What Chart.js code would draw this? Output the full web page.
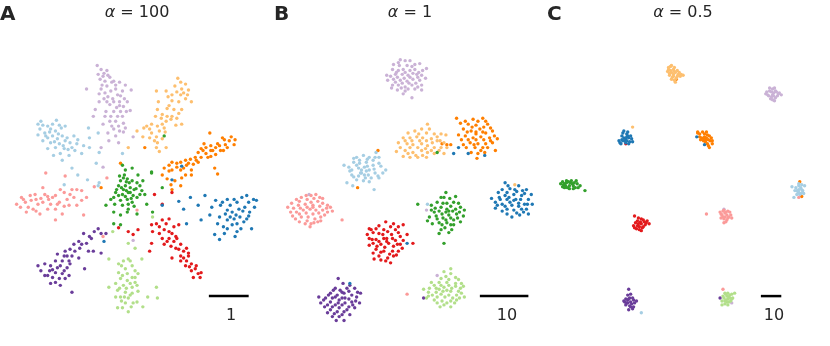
<!DOCTYPE html>
<html>
<head>
<meta charset="utf-8">
<script src="https://cdn.jsdelivr.net/npm/chart.js@4.4.0/dist/chart.umd.min.js"></script>
<style>
  body { margin: 0; background: #fff; }
  #wrap { position: relative; width: 830px; height: 346px; font-family: "DejaVu Sans", sans-serif; color: #262626; }
  canvas { position: absolute; top: 0; }
  .letter { position: absolute; top: 1px; font-weight: bold; font-size: 20px; }
  .title { position: absolute; top: 2px; font-size: 16px; transform: translateX(-50%); white-space: nowrap; }
  .title i { font-style: italic; }
  .bar { position: absolute; top: 305px; font-size: 16px; transform: translateX(-50%); }
</style>
</head>
<body>
<div id="wrap">
  <canvas id="cA" width="275" height="346" style="left:0px"></canvas>
  <canvas id="cB" width="270" height="346" style="left:275px"></canvas>
  <canvas id="cC" width="285" height="346" style="left:545px"></canvas>
  <div class="letter" style="left:0px">A</div>
  <div class="letter" style="left:274px">B</div>
  <div class="letter" style="left:547px">C</div>
  <div class="title" style="left:137px"><i>α</i> = 100</div>
  <div class="title" style="left:410px"><i>α</i> = 1</div>
  <div class="title" style="left:683px"><i>α</i> = 0.5</div>
  <div class="bar" style="left:231px">1</div>
  <div class="bar" style="left:507px">10</div>
  <div class="bar" style="left:774px">10</div>
</div>
<script>
// class names and Paired palette colours
const classes = ['lightblue', 'blue', 'lightgreen', 'green', 'pink', 'red', 'lightorange', 'orange', 'lightpurple', 'purple']
const colors = ['#a6cee3', '#1f78b4', '#b2df8a', '#33a02c', '#fb9a99', '#e31a1c', '#fdbf6f', '#ff7f00', '#cab2d6', '#6a3d9a']

// panel A (alpha = 100), flat x,y lists
const aLightblue = [35,123, 40,124, 45,125, 50,123, 54,119, 57,124, 37,128, 42,132, 48,128, 53,130, 59,127, 63,125, 35,134, 45,137, 50,135, 55,138, 60,135, 65,137, 72,135, 40,140, 48,142, 57,143, 63,140, 68,142, 75,143, 45,148, 53,147, 62,148, 70,147, 82,145, 58,153, 67,155, 73,150, 80,153, 60,160, 70,168, 87,127, 88,137, 97,132, 88,147, 98,152, 95,163, 122,153, 76,175, 86,180, 62,185, 97,186, 98,183,
    47,131, 43,135, 56,133, 52,141, 61,145, 66,149, 38,120, 76,139, 51,155]
const aBlue = [218,201, 223,206, 230,200, 233,206, 240,203, 245,198, 250,196, 257,200, 260,201, 242,210, 248,208, 253,213, 235,213, 228,215, 222,218, 230,221, 237,220, 243,218, 250,220, 220,225, 235,226, 240,225, 247,223, 255,230, 217,236, 227,235, 238,238, 222,241, 203,221, 200,206, 207,196, 192,198, 180,202, 185,210, 163,206, 188,225, 173,180, 103,243, 212,216, 183,166,
    225,203, 237,200, 252,203, 230,211, 246,212, 239,216, 233,218, 252,217, 226,228, 244,230, 230,230, 258,208, 214,208, 240,233]
const aLightgreen = [128,261, 123,263, 118,266, 132,268, 125,271, 135,273, 118,275, 127,276, 132,280, 138,276, 120,281, 127,283, 135,285, 115,286, 123,288, 132,290, 137,288, 117,293, 125,295, 132,296, 120,300, 128,301, 137,305, 125,306, 133,306, 143,310, 122,311, 128,315, 108,261, 142,261, 108,290, 157,290, 148,300, 158,301, 117,311, 135,250, 153,218, 112,233, 128,245, 130,298, 121,304,
    121,268, 130,263, 122,278, 135,280, 130,286, 119,291, 126,291, 138,294, 124,300, 131,310, 115,300]
const aGreen = [124,175, 127,179, 120,181, 132,181, 118,186, 125,186, 130,188, 137,183, 140,186, 143,181, 115,193, 122,195, 128,193, 133,196, 140,195, 113,198, 120,201, 127,200, 132,203, 138,175, 147,205, 105,206, 113,213, 120,216, 128,210, 137,215, 152,173, 163,188, 113,225, 120,226, 153,213, 122,165, 125,170, 132,168, 152,172, 165,135, 126,191, 121,188, 134,190,
    123,178, 129,183, 116,190, 123,190, 130,193, 136,189, 118,196, 125,197, 131,199, 137,198, 114,205, 122,206, 128,205, 134,207, 126,182, 119,176, 142,191, 110,200, 145,195, 127,213]
const aPink = [13,205, 18,198, 22,203, 25,208, 27,196, 32,195, 33,200, 35,205, 30,210, 23,213, 40,188, 42,195, 40,203, 45,210, 37,215, 50,198, 48,205, 53,196, 57,203, 53,210, 60,215, 53,221, 62,193, 65,200, 70,190, 75,190, 72,198, 75,206, 80,191, 80,201, 82,216, 67,206, 43,173, 63,176, 93,187, 106,178, 137,211, 102,238, 28,201, 46,200,
    20,200, 38,199, 45,197, 55,205, 62,207, 68,195, 33,212, 17,208, 58,190, 85,198]
const aRed = [152,226, 157,225, 163,221, 170,220, 180,226, 153,233, 165,231, 173,235, 163,240, 168,243, 175,243, 182,246, 172,248, 180,251, 185,253, 188,250, 173,260, 182,258, 190,258, 188,263, 193,266, 187,268, 197,271, 193,273, 200,276, 202,280, 195,280, 170,240, 152,245, 155,195, 173,193, 163,205, 118,229, 128,233, 133,236, 138,231, 150,253, 177,238,
    160,228, 167,225, 175,228, 170,233, 178,240, 160,235, 177,250, 185,260, 191,269, 198,268, 182,263, 203,275, 165,246, 190,255]
const aLightorange = [179,76, 187,82, 183,87, 178,90, 185,91, 190,88, 182,93, 173,93, 169,95, 157,89, 167,89, 193,100, 187,97, 173,99, 159,100, 180,100, 158,108, 168,107, 175,108, 183,108, 173,115, 168,115, 178,117, 163,113, 156,115, 167,120, 172,118, 163,123, 152,123, 147,125, 158,125, 177,124, 183,123, 144,127, 137,130, 160,130, 165,127, 152,132, 143,136, 157,136, 150,137, 163,138, 158,142, 128,147, 157,147, 167,147, 160,151,
    182,80, 176,84, 189,93, 170,104, 180,112, 162,117, 150,128, 166,131, 155,140]
const aOrange = [212,132, 227,139, 232,140, 237,144, 220,143, 213,145, 208,147, 218,147, 230,147, 203,148, 213,150, 223,150, 200,152, 208,153, 218,154, 197,157, 203,157, 213,156, 192,159, 200,162, 187,160, 195,164, 182,162, 188,165, 173,162, 170,165, 178,167, 165,168, 173,170, 182,170, 193,170, 217,168, 145,147, 120,163, 168,179, 176,181, 183,178, 172,185, 182,186, 173,190, 163,175, 187,175, 193,175, 220,174, 100,188,
    225,137, 234,136, 222,145, 228,144, 215,150, 205,150, 210,157, 198,160, 190,163, 178,163, 185,168, 170,171, 226,150, 206,143, 238,139]
const aLightpurple = [96,63, 100,67, 106,68, 97,72, 102,74, 107,73, 99,77, 104,79, 109,75, 113,79, 101,83, 106,84, 115,83, 119,80, 125,83, 85,87, 100,87, 104,91, 110,89, 115,87, 122,89, 131,88, 107,95, 112,97, 117,93, 113,100, 119,100, 124,97, 103,97, 98,100, 109,103, 119,104, 123,105, 127,100, 94,108, 105,110, 113,110, 120,110, 130,109, 92,115, 110,115, 117,115, 122,115, 109,120, 115,120, 123,122, 102,123, 118,125, 125,127, 113,128, 107,132, 115,135, 133,136, 123,131, 108,140, 118,142, 100,147, 133,242, 102,167,
    103,71, 111,80, 98,92, 120,94, 106,100, 116,106, 111,125, 119,130, 104,115, 126,110]
const aPurple = [97,230, 100,235, 93,233, 82,235, 88,238, 77,243, 85,245, 72,246, 68,251, 78,250, 87,253, 92,253, 100,255, 63,253, 55,256, 62,258, 70,258, 77,260, 53,263, 60,263, 67,263, 48,268, 55,270, 65,270, 42,266, 35,268, 47,273, 53,275, 60,276, 67,278, 42,278, 50,280, 57,281, 63,281, 48,286, 58,288, 70,295, 83,271, 105,235,
    90,240, 80,246, 73,253, 65,258, 58,268, 50,272, 45,278, 62,273, 53,285, 68,266, 38,273]

// panel B (alpha = 1)
const bLightblue = [355,157, 362,155, 368,157, 375,152, 352,162, 358,160, 365,162, 372,160, 378,157, 347,167, 355,165, 363,167, 372,165, 378,163, 350,170, 360,170, 368,170, 385,170, 350,175, 357,176, 363,175, 370,178, 377,176, 355,180, 362,181, 368,182, 373,190, 345,183, 378,178, 428,205, 360,173, 366,166,
    352,158, 358,163, 366,159, 374,157, 348,171, 357,168, 365,171, 373,169, 380,166, 352,177, 359,173, 367,175, 374,173, 382,173, 351,186, 364,178, 342,165]
const bBlue = [508,183, 505,190, 513,189, 522,186, 530,190, 535,195, 502,198, 508,196, 517,195, 525,196, 532,200, 498,203, 505,205, 513,203, 522,204, 528,205, 498,209, 510,210, 517,211, 525,210, 532,215, 515,218, 523,216, 510,215, 460,147, 455,153, 470,153, 487,155, 407,245, 348,286, 519,200, 512,198,
    511,186, 518,190, 526,191, 501,193, 510,193, 520,192, 528,194, 503,200, 510,200, 517,201, 524,200, 531,205, 500,206, 508,207, 515,206, 522,207, 530,210, 505,212, 520,214, 527,213, 536,205, 494,199]
const bLightgreen = [452,271, 447,279, 457,280, 432,285, 440,285, 448,285, 457,286, 463,286, 430,291, 437,291, 445,290, 453,291, 462,291, 427,301, 433,298, 442,297, 450,298, 458,298, 463,296, 435,303, 443,304, 452,304, 458,303, 452,310, 445,308, 448,293, 440,292,
    445,274, 452,276, 442,281, 450,282, 460,282, 435,288, 442,288, 450,288, 457,289, 465,289, 429,295, 437,295, 444,294, 452,294, 460,294, 429,299, 438,300, 446,300, 454,301, 461,301, 438,306, 448,306, 456,306, 441,310, 466,300, 424,292]
const bGreen = [447,193, 445,198, 457,197, 438,203, 448,204, 455,203, 432,206, 442,208, 448,210, 457,210, 462,208, 435,213, 443,215, 450,216, 458,215, 465,217, 430,218, 438,220, 447,221, 455,221, 462,223, 433,225, 443,226, 452,226, 442,231, 453,231, 445,245, 418,205, 440,235, 438,152, 450,212,
    442,198, 451,199, 436,209, 444,204, 452,207, 460,204, 432,211, 440,212, 447,213, 454,212, 461,213, 437,217, 444,219, 452,219, 459,219, 440,224, 448,224, 455,226, 446,229, 450,234, 428,222, 466,211]
const bPink = [288,204, 293,200, 298,198, 303,196, 308,196, 313,195, 317,198, 295,206, 302,205, 308,203, 315,202, 320,204, 325,206, 328,208, 287,213, 293,213, 300,211, 307,210, 313,211, 320,211, 325,213, 292,220, 298,218, 305,218, 312,220, 318,218, 302,225, 308,225, 315,223, 307,228, 340,221, 407,297, 310,208,
    296,202, 304,200, 311,199, 320,199, 290,209, 297,209, 304,208, 310,206, 317,207, 324,209, 289,217, 296,215, 303,214, 310,215, 316,214, 322,216, 296,223, 304,222, 311,224, 318,222, 284,208, 330,212]
const bRed = [370,231, 375,230, 385,223, 393,225, 403,226, 378,235, 387,233, 395,231, 368,240, 375,241, 383,240, 392,240, 400,238, 372,245, 380,246, 388,245, 397,246, 402,250, 375,251, 383,253, 392,253, 398,253, 378,258, 387,260, 393,258, 373,261, 385,263, 413,245, 368,230, 386,243,
    378,227, 390,228, 398,228, 372,234, 382,236, 391,236, 398,234, 366,236, 371,241, 378,243, 386,240, 395,242, 403,242, 368,247, 376,248, 384,249, 393,248, 400,246, 372,255, 380,254, 389,256, 396,257, 380,262, 390,265, 383,231, 407,236]
const bLightorange = [408,132, 415,130, 422,128, 428,123, 427,132, 435,133, 442,133, 447,134, 403,137, 410,137, 417,136, 423,137, 432,138, 438,140, 445,142, 400,147, 407,143, 413,144, 422,143, 428,145, 435,147, 442,147, 405,150, 413,152, 422,150, 428,152, 435,153, 410,157, 418,157, 427,157, 445,153, 403,156, 518,185,
    419,133, 430,128, 438,136, 405,140, 412,140, 420,140, 427,140, 433,142, 441,140, 398,142, 410,147, 418,147, 426,148, 432,150, 440,150, 448,147, 416,155, 423,155, 408,153, 396,151]
const bOrange = [458,117, 467,120, 475,118, 485,117, 470,123, 478,124, 490,123, 493,127, 465,128, 473,130, 482,128, 488,132, 497,135, 467,135, 475,137, 483,136, 492,137, 463,139, 472,142, 480,143, 488,143, 495,142, 468,147, 477,147, 485,147, 473,152, 480,153, 498,150, 479,158, 377,150, 448,144, 452,144, 443,143, 356,188, 478,133,
    462,122, 480,120, 488,120, 474,126, 486,126, 495,130, 469,131, 478,131, 485,131, 460,134, 470,139, 478,139, 486,139, 493,140, 465,144, 483,150, 490,147, 476,144, 500,138, 487,152]
const bLightpurple = [400,57, 405,58, 410,58, 393,62, 399,63, 407,63, 415,62, 420,61, 392,67, 398,68, 403,67, 410,68, 415,67, 423,68, 395,72, 402,72, 408,73, 417,72, 422,73, 387,78, 393,77, 400,78, 407,79, 413,77, 420,78, 392,83, 398,83, 405,85, 412,83, 422,83, 397,88, 405,89, 415,87, 422,88, 391,86, 412,96, 306,195, 427,211, 438,278,
    398,60, 412,64, 396,70, 405,70, 413,71, 419,70, 390,74, 397,75, 404,76, 410,75, 418,75, 426,76, 395,80, 402,81, 409,81, 416,81, 401,86, 408,87, 418,85, 403,92, 386,73, 427,66]
const bPurple = [336,281, 333,291, 338,293, 345,291, 353,291, 328,296, 335,298, 342,296, 350,298, 355,300, 323,301, 330,301, 337,303, 343,301, 350,305, 318,306, 325,308, 333,308, 340,308, 347,310, 353,311, 328,313, 335,315, 342,315, 330,320, 337,320, 342,324, 424,301,
    341,286, 348,288, 331,293, 340,295, 347,294, 356,295, 326,298, 333,300, 340,301, 347,302, 354,304, 321,303, 328,305, 336,306, 343,306, 351,308, 358,306, 322,310, 330,310, 337,311, 345,313, 325,316, 332,317, 340,318, 348,318, 334,324, 316,300, 359,296]

// panel C (alpha = 0.5)
const cLightblue = [802,186, 805,190, 800,191, 803,195, 808,186, 795,187, 797,198, 802,190, 806,193, 640,316,
    799,188, 801,192, 804,188, 806,191, 800,195, 804,194, 807,194, 802,184, 798,191, 805,185, 802,193]
const cBlue = [621,132, 625,133, 622,137, 627,137, 630,138, 618,142, 623,140, 628,141, 625,136, 620,139, 626,131, 697,136, 705,144,
    622,130, 626,135, 620,135, 624,138, 629,135, 621,140, 625,140, 617,140, 631,141, 627,143, 619,143, 624,142]
const cLightgreen = [727,297, 730,300, 725,301, 732,304, 728,305, 736,296, 723,308, 729,302, 726,304, 731,298,
    726,296, 729,296, 733,297, 724,299, 728,299, 731,301, 734,301, 723,304, 727,303, 730,305, 733,302, 726,307, 729,308]
const cGreen = [560,185, 563,181, 567,183, 570,186, 564,188, 573,181, 577,186, 582,191, 562,186, 566,186, 569,184,
    559,182, 561,184, 565,182, 568,181, 571,183, 574,184, 561,188, 566,189, 570,189, 575,188, 563,183, 572,188, 559,187, 557,184]
const cPink = [725,211, 722,215, 728,216, 732,216, 725,220, 727,223, 707,215, 726,214, 729,219, 724,218, 724,292, 802,198,
    724,212, 729,212, 721,213, 727,213, 723,216, 726,218, 730,218, 722,219, 728,221, 731,213, 733,219, 725,224]
const cRed = [633,217, 640,220, 643,223, 637,225, 642,228, 635,230, 640,232, 648,225, 638,228, 640,225, 636,222, 624,143,
    637,219, 642,221, 634,224, 639,223, 645,224, 632,227, 636,227, 641,229, 644,226, 638,231, 646,222, 633,229]
const cLightorange = [671,63, 668,67, 673,67, 677,68, 669,71, 673,72, 678,72, 681,72, 672,75, 676,76, 675,80, 674,69, 670,68, 631,126,
    670,64, 674,65, 667,69, 671,70, 675,70, 679,70, 669,73, 673,74, 677,74, 680,74, 671,77, 674,78, 668,65, 683,73]
const cOrange = [698,132, 705,133, 708,134, 702,137, 707,137, 712,137, 704,140, 708,143, 713,143, 710,147, 705,136, 706,139, 676,77, 803,182, 805,197,
    700,133, 703,131, 707,131, 710,135, 700,136, 704,138, 709,139, 711,140, 701,139, 706,141, 709,145, 698,131, 713,140]
const cLightpurple = [775,87, 772,89, 778,89, 770,93, 775,93, 781,92, 773,97, 778,96, 776,91, 774,95, 725,210, 733,306,
    772,86, 777,86, 769,90, 774,90, 779,90, 782,91, 771,94, 776,94, 780,94, 775,98, 768,92, 784,93, 777,99]
const cPurple = [627,292, 628,301, 632,303, 625,306, 628,309, 631,312, 635,304, 629,305, 626,303, 630,307, 721,301,
    626,298, 629,297, 624,302, 627,302, 631,301, 623,305, 626,306, 633,306, 629,310, 632,310, 624,308, 627,313, 622,304]

// scale bars: [x0, x1, y]
const scaleBars = [[211, 252, 299], [482, 532, 299], [763, 784, 299]]

const panels = [
    { id: 'cA', xmin: 0, xmax: 275, sets: [aLightblue, aBlue, aLightgreen, aGreen, aPink, aRed, aLightorange, aOrange, aLightpurple, aPurple] },
    { id: 'cB', xmin: 275, xmax: 545, sets: [bLightblue, bBlue, bLightgreen, bGreen, bPink, bRed, bLightorange, bOrange, bLightpurple, bPurple] },
    { id: 'cC', xmin: 545, xmax: 830, sets: [cLightblue, cBlue, cLightgreen, cGreen, cPink, cRed, cLightorange, cOrange, cLightpurple, cPurple] }
]

const toPoints = (flat) => {
    let pts = []
    for (var i = 0; i < flat.length; i += 2) {
        pts.push({ x: flat[i], y: flat[i + 1] })
    }
    return pts
}

panels.forEach((p, k) => {
    let datasets = p.sets.map((s, i) => ({
        type: 'scatter',
        label: classes[i],
        data: toPoints(s),
        backgroundColor: colors[i],
        borderWidth: 0,
        pointRadius: 1.7
    }))
    const sb = scaleBars[k]
    datasets.push({
        type: 'line',
        label: 'scale',
        data: [{ x: sb[0], y: sb[2] }, { x: sb[1], y: sb[2] }],
        borderColor: '#000000',
        borderWidth: 2.5,
        pointRadius: 0
    })
    new Chart(document.getElementById(p.id), {
        type: 'scatter',
        data: { datasets: datasets },
        options: {
            responsive: false,
            animation: false,
            layout: { padding: 0 },
            plugins: { legend: { display: false }, tooltip: { enabled: false } },
            scales: {
                x: { type: 'linear', display: false, min: p.xmin, max: p.xmax },
                y: { type: 'linear', display: false, min: 0, max: 346, reverse: true }
            }
        }
    })
})
</script>
</body>
</html>
